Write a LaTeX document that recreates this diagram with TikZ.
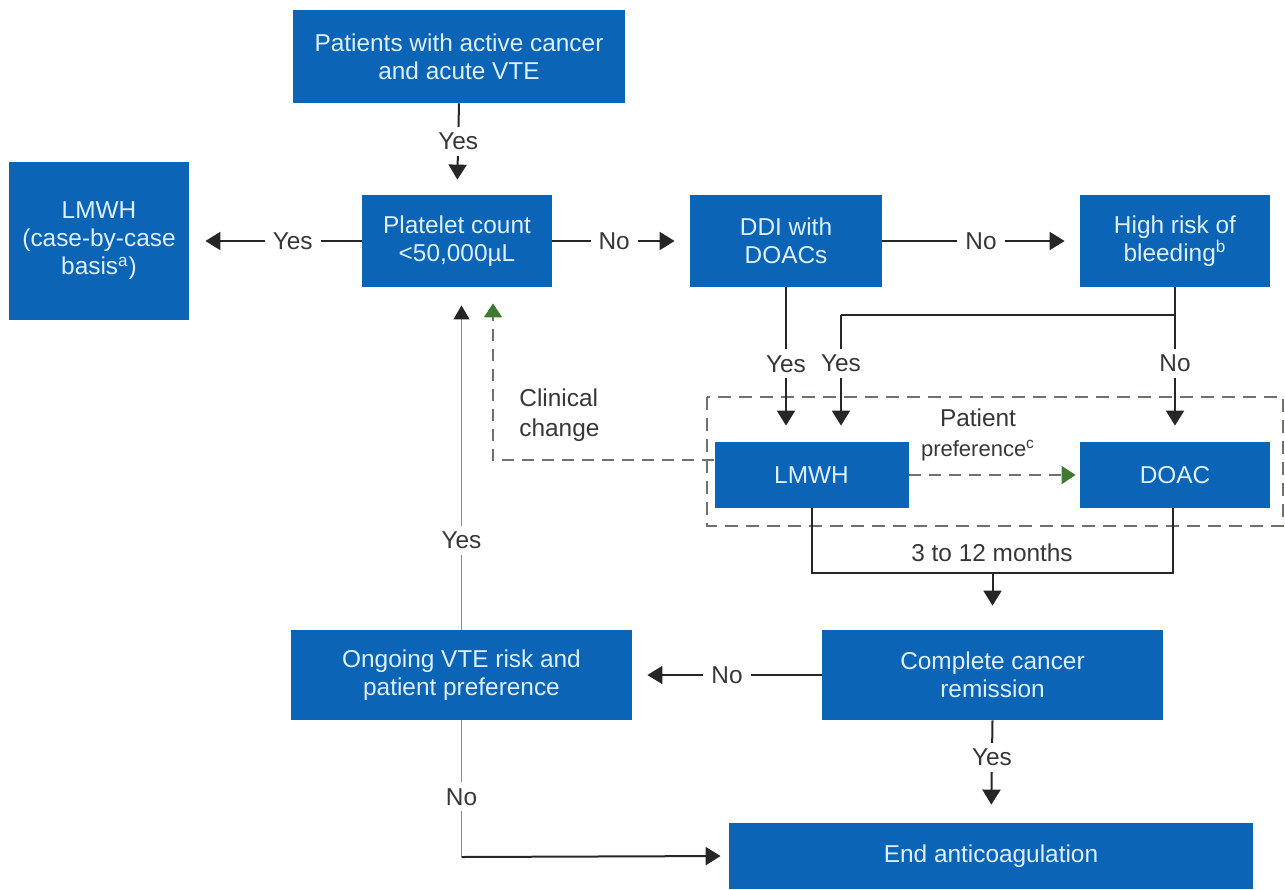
\documentclass[tikz,border=0pt]{standalone}
\usepackage{fontspec}
\setmainfont{Liberation Sans}
\usetikzlibrary{arrows.meta}
\definecolor{boxblue}{RGB}{11,100,182}
\definecolor{boxtext}{RGB}{222,240,255}
\definecolor{labgray}{RGB}{55,55,55}
\definecolor{arrgreen}{RGB}{62,122,48}
\definecolor{dashgray}{RGB}{110,115,105}
\tikzset{
  x=0.5pt, y=-0.5pt,
  box/.style={fill=boxblue, text=boxtext, align=center, inner sep=0pt,
    font=\fontsize{12.2}{14}\selectfont},
  lab/.style={fill=white, text=labgray, inner xsep=4pt, inner ysep=3pt,
    font=\fontsize{12.2}{14}\selectfont},
  plain/.style={text=labgray, align=left, inner sep=0pt,
    font=\fontsize{12.2}{15}\selectfont},
  conn/.style={draw=black!85, line width=1pt},
  arr/.style={conn, -{Triangle[length=7.5pt,width=9pt]}, shorten >=7.5pt},
  greenarr/.style={draw=dashgray, line width=1pt, dash pattern=on 6pt off 4pt,
    -{Triangle[length=7pt,width=9pt,color=arrgreen]}},
}
\begin{document}
\begin{tikzpicture}
\useasboundingbox (0,0) rectangle (1285,889);
% dashed grouping box
\draw[dashgray, line width=1pt, dash pattern=on 6.5pt off 4pt] (707,397) rectangle (1283,526);
% boxes
\node[box, minimum width=166pt, minimum height=46.5pt] (start) at (459,56.5) {Patients with active cancer\\and acute VTE};
\node[box, minimum width=90pt, minimum height=79pt] (lmwhL) at (99,241) {LMWH\\(case-by-case\\basis\textsuperscript{a})};
\node[box, minimum width=95pt, minimum height=46pt] (plat) at (457,241) {Platelet count\\<50,000µL};
\node[box, minimum width=96pt, minimum height=46pt] (ddi) at (786,241) {DDI with\\DOACs};
\node[box, minimum width=95pt, minimum height=46pt] (high) at (1175,241) {High risk of\\bleeding\textsuperscript{b}};
\node[box, minimum width=97pt, minimum height=33pt] (lmwhM) at (811.5,475) {LMWH};
\node[box, minimum width=95pt, minimum height=33pt] (doac) at (1175,475) {DOAC};
\node[box, minimum width=170.5pt, minimum height=45pt] (rem) at (992.5,675) {Complete cancer\\remission};
\node[box, minimum width=170.5pt, minimum height=45pt] (ong) at (461.5,675) {Ongoing VTE risk and\\patient preference};
\node[box, minimum width=262pt, minimum height=33pt] (end) at (991,856) {End anticoagulation};
% connectors
\draw[arr] (start.south) -- (plat.north) node[lab, pos=0.42] {Yes};
\draw[arr, shorten >=8pt] (plat.west) -- (lmwhL.east) node[lab, pos=0.4] {Yes};
\draw[arr] (plat.east) -- (ddi.west) node[lab, pos=0.45] {No};
\draw[arr] (ddi.east) -- (high.west) node[lab, pos=0.5] {No};
\draw[arr, shorten >=8pt] (ddi.south) -- (lmwhM.north -| ddi.south) node[lab, pos=0.495] {Yes};
\coordinate (hsplit) at (1175,315);
\coordinate (hleft) at (841,315);
\draw[conn] (high.south) -- (hsplit) -- (hleft);
\draw[arr, shorten >=8pt] (hleft) -- (lmwhM.north -| hleft) node[lab, pos=0.38] {Yes};
\draw[arr, shorten >=8pt] (hsplit) -- (doac.north) node[lab, pos=0.38] {No};
% merge after treatment
\coordinate (mL) at (812,573);
\coordinate (mR) at (1173,573);
\coordinate (mC) at (992.5,573);
\draw[conn] (lmwhM.south -| mL) -- (mL) -- (mR) -- (doac.south -| mR);
\draw[arr, shorten >=12pt] (mC) -- (rem.north);
\node[text=labgray, font=\fontsize{12.2}{14}\selectfont] (months) at (992,553) {3 to 12 months};
% remission
\draw[arr] (rem.west) -- (ong.east) node[lab, pos=0.5] {No};
\draw[arr, shorten >=9pt] (rem.south) -- (end.north) node[lab, pos=0.36] {Yes};
% ongoing -> platelet (yes)
\draw[draw=black!45, line width=0.45pt, -{Triangle[length=7pt,width=8pt,color=black!85]}, shorten >=9pt] (ong.north) -- (plat.south -| ong.north) node[lab, pos=0.26] {Yes};
% ongoing -> end (no)
\coordinate (oc) at (461.5,857);
\draw[draw=black!45, line width=0.45pt] (ong.south) -- (oc) node[lab, pos=0.56] {No};
\draw[arr, shorten >=4pt] (oc) -- (end.west);
% clinical change
\coordinate (cc1) at (714,460);
\coordinate (cc2) at (493,460);
\draw[greenarr, shorten >=8pt] (cc1) -- (cc2) -- (plat.south -| cc2);
\node[plain, anchor=west] (clin) at (519,415) {Clinical\\change};
% patient preference
\draw[greenarr, shorten >=2pt] (lmwhM.east) -- (doac.west);
\node[text=labgray, align=center, inner sep=0pt, font=\fontsize{12.2}{15}\selectfont] (pref) at (978,435) {Patient\\{\fontsize{11}{13}\selectfont preference\textsuperscript{c}}};
\end{tikzpicture}
\end{document}
